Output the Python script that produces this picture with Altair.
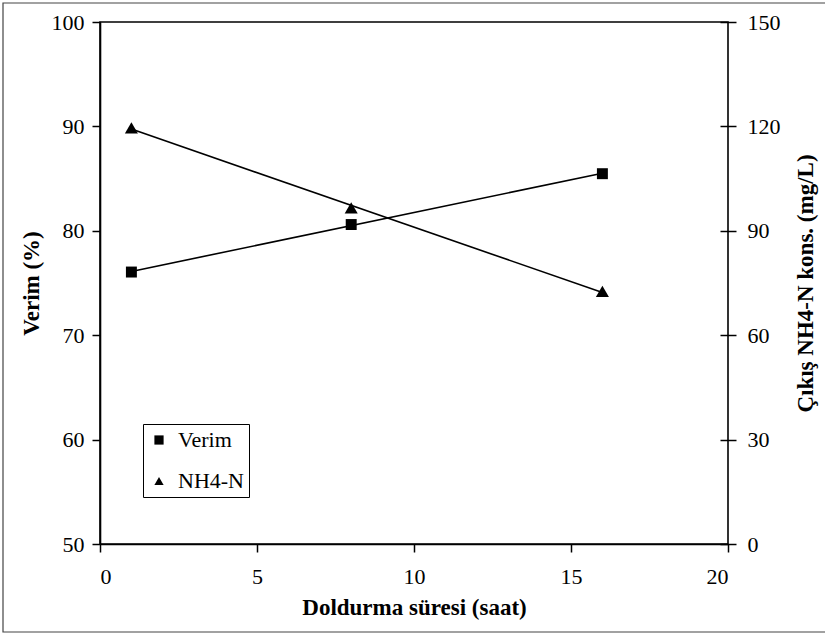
import altair as alt
import pandas as pd

# ---- data ----
hours = [1, 8, 16]
verim = [76.05, 80.6, 85.47]          # left axis (%)
nh4 = [119.6, 96.6, 72.6]             # right axis (mg/L)
series_names = ["Verim", "NH4-N"]

x_ticks = [0, 5, 10, 15, 20]
left_ticks = [50, 60, 70, 80, 90, 100]
right_ticks = [0, 30, 60, 90, 120, 150]

df_v = pd.DataFrame({"saat": hours, "deger": verim, "seri": "Verim"})
df_n = pd.DataFrame({"saat": hours, "deger": nh4, "seri": "NH4-N"})

FONT = "Liberation Serif"

x_axis = alt.Axis(values=x_ticks, title="Doldurma süresi (saat)",
                  labelPadding=14, titlePadding=9)
x_enc = alt.X("saat:Q", scale=alt.Scale(domain=[0, 20], nice=False), axis=x_axis)

shape_enc = alt.Shape(
    "seri:N",
    scale=alt.Scale(domain=series_names, range=["square", "triangle-up"]),
    legend=alt.Legend(
        title=None, orient="none", legendX=43, legendY=402,
        strokeColor="black", fillColor="white", cornerRadius=0,
        padding=5, rowPadding=19, symbolSize=85, labelOffset=8,
        symbolFillColor="black", symbolStrokeColor="black",
        labelFont=FONT, labelFontSize=22, labelColor="black",
    ),
)

left_scale = alt.Scale(domain=[50, 100], nice=False)
right_scale = alt.Scale(domain=[0, 150], nice=False)

left_axis = alt.Axis(orient="left", values=left_ticks, title="Verim (%)",
                     labelPadding=8, titlePadding=8)
right_axis = alt.Axis(orient="right", values=right_ticks,
                      title="Çıkış NH4-N kons. (mg/L)", titleAngle=270,
                      titleBaseline="top",
                      offset=-8, tickSize=16, domain=False,
                      labelPadding=11, titlePadding=14)

verim_line = alt.Chart(df_v).transform_regression("saat", "deger").mark_line(
    color="black", strokeWidth=1.6
).encode(x=x_enc, y=alt.Y("deger:Q", scale=left_scale, axis=left_axis))

verim_pts = alt.Chart(df_v).mark_point(
    filled=True, color="black", size=120, opacity=1
).encode(
    x=x_enc,
    y=alt.Y("deger:Q", scale=left_scale, axis=left_axis),
    shape=shape_enc,
)

nh4_line = alt.Chart(df_n).transform_regression("saat", "deger").mark_line(
    color="black", strokeWidth=1.6
).encode(x=x_enc, y=alt.Y("deger:Q", scale=right_scale, axis=right_axis))

nh4_pts = alt.Chart(df_n).mark_point(
    filled=True, color="black", size=170, opacity=1
).encode(
    x=x_enc,
    y=alt.Y("deger:Q", scale=right_scale, axis=right_axis),
    shape=shape_enc,
)

left = alt.layer(verim_line, verim_pts)
right = alt.layer(nh4_line, nh4_pts)

frame = alt.Chart(pd.DataFrame({"k": [0]})).mark_rect(
    fill=None, stroke="#444444", strokeWidth=1.2, clip=False
).encode(
    x=alt.value(-97), x2=alt.value(800), y=alt.value(-19), y2=alt.value(610)
)

chart = alt.layer(left, right, frame).resolve_scale(y="independent").properties(
    width=628, height=522,
    autosize=alt.AutoSizeParams(type="none"),
    padding={"left": 100, "top": 22, "right": 97, "bottom": 91},
    background="white",
).configure_view(
    stroke="black", strokeWidth=1.6
).configure_axis(
    grid=False, domainColor="black", domainWidth=1.6, tickColor="black",
    tickWidth=1.5, tickSize=8,
    labelFont=FONT, labelFontSize=22, labelColor="black",
    titleFont=FONT, titleFontSize=23, titleFontWeight="bold", titleColor="black",
)

chart.save("out.html", embed_options={"renderer": "svg", "actions": False})
